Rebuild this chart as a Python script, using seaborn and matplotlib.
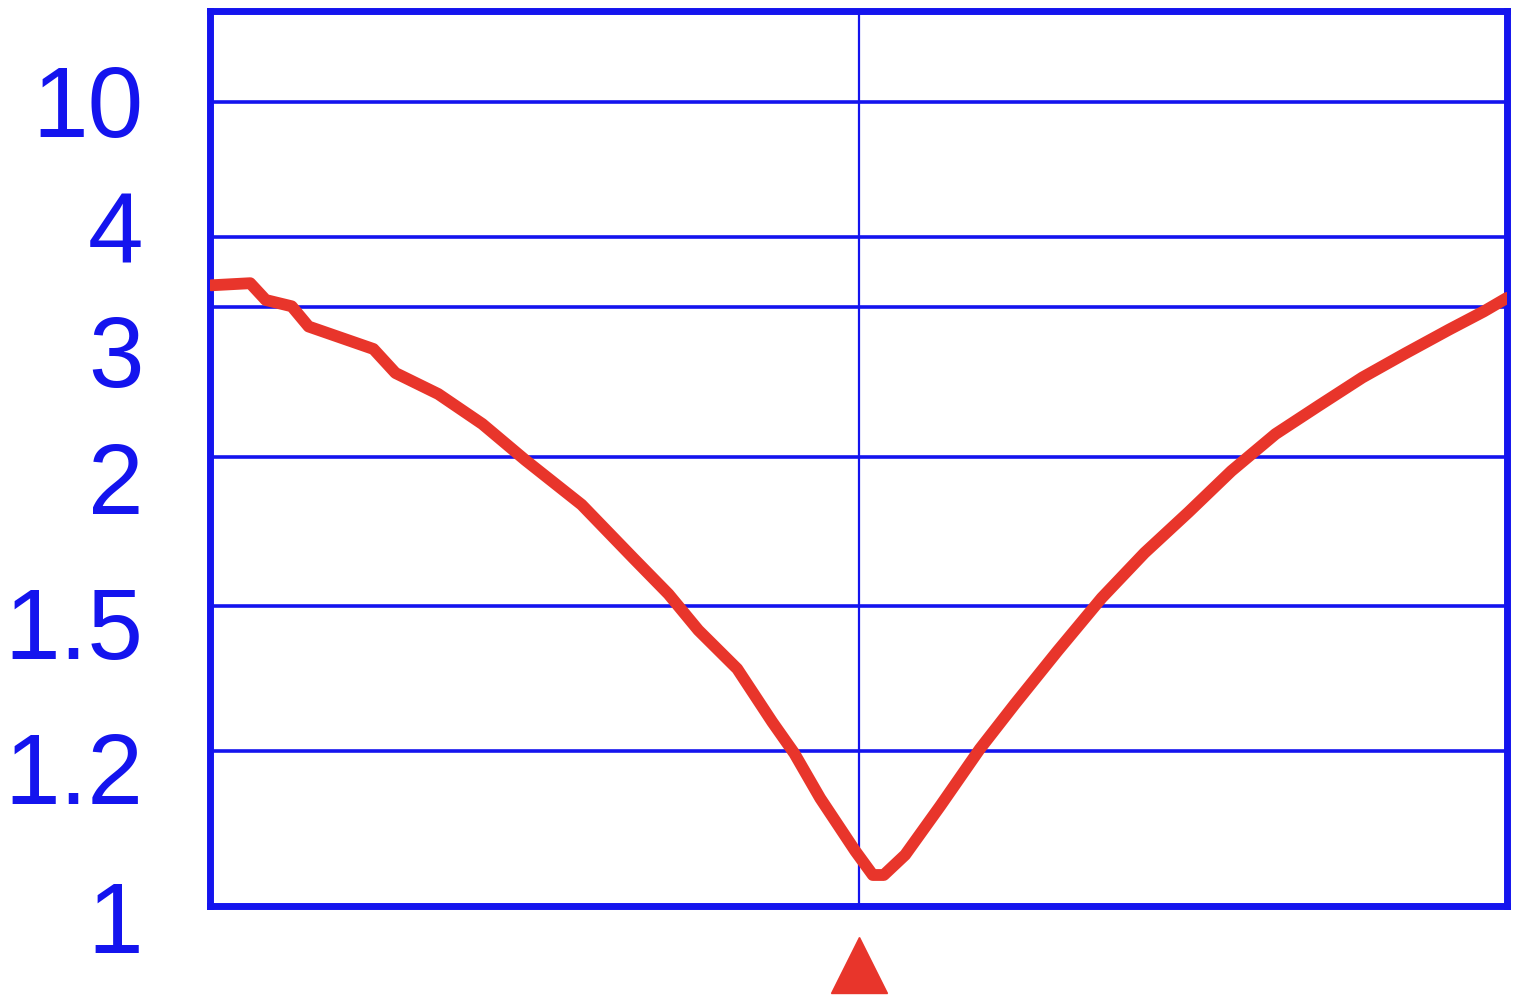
import numpy as np
import pandas as pd
import matplotlib
matplotlib.use('Agg')
import matplotlib.pyplot as plt
import matplotlib.transforms as mtransforms
from matplotlib import font_manager
import seaborn as sns

# SWR curve (x = normalised offset from centre frequency)
offset = [-0.998, -0.938, -0.914, -0.874, -0.848, -0.748, -0.714, -0.648, -0.580, -0.514,
          -0.427, -0.347, -0.293, -0.247, -0.187, -0.133, -0.099, -0.059, -0.005, 0.022,
          0.039, 0.072, 0.126, 0.187, 0.241, 0.307, 0.375, 0.441, 0.509, 0.575,
          0.643, 0.709, 0.777, 0.843, 0.911, 0.964, 1.0]
swr = [3.31, 3.34, 3.10, 3.01, 2.87, 2.72, 2.56, 2.42, 2.22, 1.99,
       1.84, 1.66, 1.54, 1.45, 1.37, 1.26, 1.197, 1.139, 1.071, 1.04,
       1.04, 1.066, 1.129, 1.204, 1.297, 1.407, 1.527, 1.678, 1.815, 1.953,
       2.153, 2.34, 2.53, 2.69, 2.85, 2.97, 3.13]

tick_vals = [1, 1.2, 1.5, 2, 3, 4, 10]
tick_labels = ['1', '1.2', '1.5', '2', '3', '4', '10']
# how far each printed label sits below its grid line (pixels)
label_drop = [10, 16, 15, 20, 42, -11, -3]

# chart's own non-uniform SWR scale (relative spacing of the printed grid)
scale_swr = np.array([1, 1.2, 1.5, 2, 3, 4, 10, 100])
scale_pos = np.array([0, 155, 300, 449, 599, 669, 804, 895], dtype=float)


def fwd(v):
    return np.interp(v, scale_swr, scale_pos)


def inv(p):
    return np.interp(p, scale_pos, scale_swr)


blue = '#1414ee'
red = '#e8352b'

sns.set_style('white')
installed = {f.name for f in font_manager.fontManager.ttflist}
if 'Liberation Sans Narrow' in installed:
    label_font, label_size = 'Liberation Sans Narrow', 84
else:
    label_font, label_size = 'Liberation Sans', 72
plt.rcParams['font.family'] = [label_font, 'DejaVu Sans']

fig = plt.figure(figsize=(15.19, 10.04), dpi=100)
ax = fig.add_axes([210 / 1519, 97 / 1004, 1297 / 1519, 895 / 1004])

df = pd.DataFrame({'offset': offset, 'swr': swr})
ax.set_yscale('function', functions=(fwd, inv))
ax.set_ylim(1, 100)
ax.set_xlim(-1, 1)

sns.lineplot(data=df, x='offset', y='swr', ax=ax, color=red, linewidth=8.5,
             solid_capstyle='round', solid_joinstyle='round', zorder=5)

ax.set_yticks(tick_vals)
ax.set_yticklabels(tick_labels)
ax.yaxis.set_minor_locator(matplotlib.ticker.NullLocator())
ax.set_xticks([0])
ax.set_xticklabels([])
ax.tick_params(axis='both', length=0)
ax.tick_params(axis='y', labelsize=label_size, labelcolor=blue, pad=48)
ax.set_xlabel('')
ax.set_ylabel('')

ax.grid(True, axis='y', color=blue, linewidth=2.6)
ax.grid(True, axis='x', color=blue, linewidth=1.6)
for s in ax.spines.values():
    s.set_visible(True)
    s.set_color(blue)
    s.set_linewidth(5)

for lab, d in zip(ax.get_yticklabels(), label_drop):
    shift = mtransforms.ScaledTranslation(0, -d / 100, fig.dpi_scale_trans)
    lab.set_transform(lab.get_transform() + shift)

# centre-frequency marker below the plot
ax.plot([0], [-0.066], marker='^', markersize=40, color=red,
        transform=ax.get_xaxis_transform(), clip_on=False)

fig.savefig('out.png', dpi=100)
